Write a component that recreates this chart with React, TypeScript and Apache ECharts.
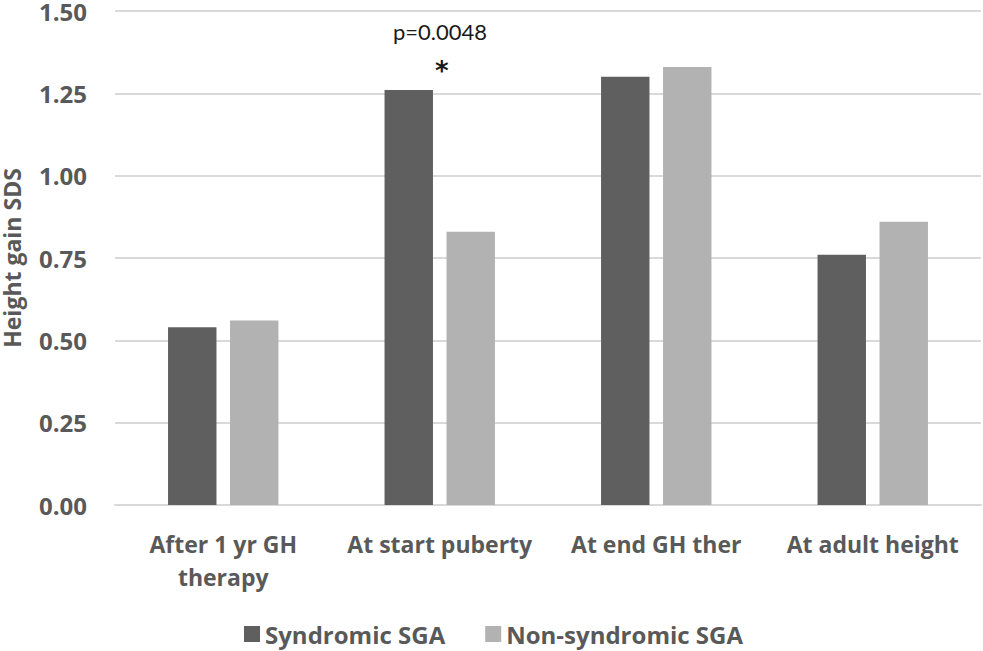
import React, { useEffect, useRef } from "react";
import * as echarts from "echarts";

const categories = ["After 1 yr GH\ntherapy", "At start puberty", "At end GH ther", "At adult height"];
const syndromic = [0.54, 1.26, 1.30, 0.76];
const nonSyndromic = [0.56, 0.83, 1.33, 0.86];
const seriesNames = ["Syndromic SGA", "Non-syndromic SGA"];
const yAxisTitle = "Height gain SDS";
const pValueText = "p=0.0048";
const starText = "*";

export default function App() {
  const ref = useRef<HTMLDivElement>(null);
  useEffect(() => {
    document.body.style.margin = "0";
    const chart = echarts.init(ref.current!, undefined, { renderer: "svg" });
    const font = "'Open Sans', Lato, sans-serif";
    const textColor = "#595959";
    chart.setOption({
      animation: false,
      backgroundColor: "#ffffff",
      textStyle: { fontFamily: font },
      grid: { left: 115, right: 2, top: 11, bottom: 146, containLabel: false, outerBoundsMode: "none" },
      legend: {
        left: 239,
        top: 616,
        itemWidth: 16,
        itemHeight: 16,
        itemGap: 40,
        icon: "rect",
        textStyle: { fontFamily: font, fontWeight: "bold", fontSize: 24, color: textColor, lineHeight: 26 },
        data: seriesNames,
      },
      xAxis: {
        type: "category",
        data: categories,
        axisLine: { show: true, lineStyle: { color: "#d9d9d9", width: 2 } },
        axisTick: { show: false },
        axisLabel: {
          fontFamily: font,
          fontWeight: "bold",
          fontSize: 23,
          color: textColor,
          margin: 22,
          lineHeight: 33,
          interval: 0,
        },
      },
      yAxis: {
        type: "value",
        min: 0,
        max: 1.5,
        interval: 0.25,
        name: yAxisTitle,
        nameLocation: "middle",
        nameGap: 92,
        nameTextStyle: { fontFamily: font, fontWeight: "bold", fontSize: 23, color: textColor, lineHeight: 22 },
        axisLine: { show: false },
        axisTick: { show: false },
        splitLine: { lineStyle: { color: "#d9d9d9", width: 2 } },
        axisLabel: {
          fontFamily: font,
          fontWeight: "bold",
          fontSize: 24,
          color: textColor,
          margin: 28,
          lineHeight: 20,
          formatter: (v: number) => v.toFixed(2),
        },
      },
      series: [
        {
          name: seriesNames[0],
          type: "bar",
          data: syndromic,
          itemStyle: { color: "#5f5f5f" },
          barGap: "28%",
          barCategoryGap: "49%",
        },
        {
          name: seriesNames[1],
          type: "bar",
          data: nonSyndromic,
          itemStyle: { color: "#b2b2b2" },
          barGap: "28%",
          barCategoryGap: "49%",
        },
      ],
      graphic: [
        {
          type: "text",
          left: 393,
          top: 20,
          style: { text: pValueText, fontFamily: "Lato, sans-serif", fontSize: 22, fill: "#1a1a1a" },
        },
        {
          type: "text",
          left: 435,
          top: 58,
          style: { text: starText, fontFamily: "'DejaVu Sans', sans-serif", fontWeight: "bold", fontSize: 26, fill: "#1a1a1a" },
        },
      ],
    });
    return () => chart.dispose();
  }, []);
  return <div ref={ref} style={{ width: 983, height: 651 }} />;
}
